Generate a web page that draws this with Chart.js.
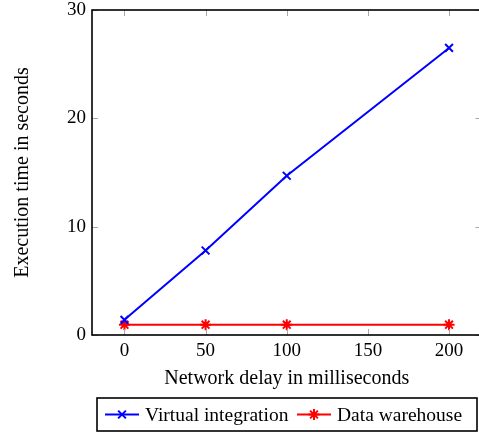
<!DOCTYPE html>
<html>
<head>
<meta charset="utf-8">
<script src="https://cdn.jsdelivr.net/npm/chart.js@4"></script>
<style>
  html, body { margin: 0; padding: 0; background: #fff; overflow: hidden; }
  #wrap { width: 479px; height: 433px; overflow: hidden; position: relative; }
  canvas { display: block; }
</style>
</head>
<body>
<div id="wrap"><canvas id="c" width="484" height="433" style="width:484px;height:433px"></canvas></div>
<script>
// network delay (ms) on the x axis
const delays = [0, 50, 100, 200];
// execution time in seconds
const virtualIntegration = [1.4, 7.8, 14.7, 26.5];
const dataWarehouse = [0.95, 0.95, 0.95, 0.95];

const xTicks = [0, 50, 100, 150, 200];
const yTicks = [0, 10, 20, 30];

const serif = 'Liberation Serif, Times New Roman, serif';

function toPoints(ys) {
  return delays.map((x, i) => ({ x: x, y: ys[i] }));
}

// pgfplots-like frame: black box, grey ticks pointing inwards on all four sides
const framePlugin = {
  id: 'frame',
  afterDatasetsDraw(chart) {
    const { ctx, chartArea: a, scales } = chart;
    const len = 6;
    ctx.save();
    ctx.strokeStyle = '#a8a8a8';
    ctx.lineWidth = 1;
    ctx.beginPath();
    for (const v of xTicks) {
      const px = Math.round(scales.x.getPixelForValue(v)) + 0.5;
      ctx.moveTo(px, a.bottom); ctx.lineTo(px, a.bottom - len);
      ctx.moveTo(px, a.top); ctx.lineTo(px, a.top + len);
    }
    for (const v of yTicks) {
      const py = Math.round(scales.y.getPixelForValue(v)) + 0.5;
      ctx.moveTo(a.left, py); ctx.lineTo(a.left + len, py);
      ctx.moveTo(a.right, py); ctx.lineTo(a.right - len, py);
    }
    ctx.stroke();
    ctx.strokeStyle = '#000';
    ctx.lineWidth = 1.6;
    ctx.strokeRect(a.left, a.top, a.right - a.left, a.bottom - a.top);
    ctx.restore();
  }
};

// boxed legend underneath the axis title
const legendPlugin = {
  id: 'boxLegend',
  afterDraw(chart) {
    const { ctx } = chart;
    const box = { x: 97, y: 398, w: 380, h: 33 };
    ctx.save();
    ctx.strokeStyle = '#000';
    ctx.lineWidth = 1.6;
    ctx.strokeRect(box.x, box.y, box.w, box.h);
    ctx.font = '19.5px ' + serif;
    ctx.textBaseline = 'middle';
    const cy = box.y + box.h / 2;
    const starts = [105, 297];
    chart.data.datasets.forEach((ds, i) => {
      const x0 = starts[i];
      ctx.strokeStyle = ds.borderColor;
      ctx.lineWidth = ds.borderWidth;
      ctx.beginPath();
      ctx.moveTo(x0, cy); ctx.lineTo(x0 + 34, cy);
      ctx.stroke();
      Chart.helpers.drawPoint(ctx, {
        pointStyle: ds.pointStyle,
        radius: ds.pointRadius,
        borderWidth: ds.pointBorderWidth
      }, x0 + 17, cy);
      ctx.fillStyle = '#000';
      ctx.fillText(ds.label, x0 + 40, cy + 1);
    });
    ctx.restore();
  }
};

new Chart(document.getElementById('c'), {
  type: 'line',
  data: {
    datasets: [{
      label: 'Virtual integration',
      data: toPoints(virtualIntegration),
      borderColor: '#0000ff',
      backgroundColor: '#0000ff',
      borderWidth: 2,
      pointStyle: 'crossRot',
      pointRadius: 5.5,
      pointBorderWidth: 2,
      pointBorderColor: '#0000ff'
    }, {
      label: 'Data warehouse',
      data: toPoints(dataWarehouse),
      borderColor: '#ff0000',
      backgroundColor: '#ff0000',
      borderWidth: 2,
      pointStyle: 'star',
      pointRadius: 5.5,
      pointBorderWidth: 2,
      pointBorderColor: '#ff0000'
    }]
  },
  options: {
    responsive: false,
    animation: false,
    // canvas is a little wider than the page so the frame's right edge is cut off
    layout: { autoPadding: false, padding: { left: 0, right: 2.5, top: 10, bottom: 0 } },
    plugins: { legend: { display: false }, tooltip: { enabled: false } },
    scales: {
      x: {
        type: 'linear',
        min: -20,
        max: 220,
        grid: { display: false, drawTicks: false },
        border: { display: false },
        afterBuildTicks: s => { s.ticks = xTicks.map(v => ({ value: v })); },
        afterFit: s => { s.height = 98; s.paddingLeft = 0; s.paddingRight = 0; },
        ticks: { color: '#000', padding: 5, maxRotation: 0, font: { family: serif, size: 19 } },
        title: {
          display: true,
          text: 'Network delay in milliseconds',
          color: '#000',
          font: { family: serif, size: 20 },
          padding: { top: 0, bottom: 42 }
        }
      },
      y: {
        type: 'linear',
        min: 0,
        max: 30,
        grid: { display: false, drawTicks: false },
        border: { display: false },
        afterBuildTicks: s => { s.ticks = yTicks.map(v => ({ value: v })); },
        afterFit: s => { s.width = 92; s.paddingTop = 0; s.paddingBottom = 0; },
        ticks: { color: '#000', padding: 6, font: { family: serif, size: 19 } },
        title: {
          display: true,
          text: 'Execution time in seconds',
          color: '#000',
          font: { family: serif, size: 20 },
          padding: { top: 11, bottom: 0 }
        }
      }
    }
  },
  plugins: [framePlugin, legendPlugin]
});
</script>
</body>
</html>
